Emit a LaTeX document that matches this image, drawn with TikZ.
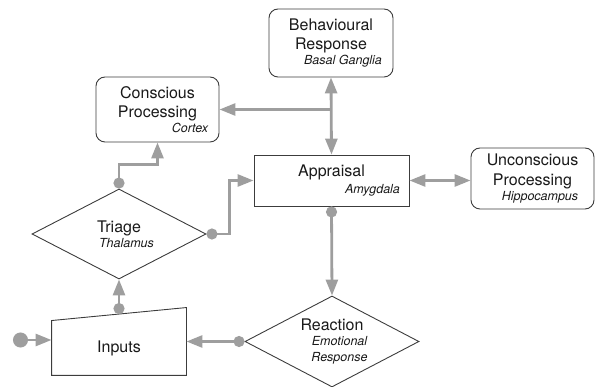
\documentclass[tikz,border=0pt]{standalone}
\usepackage{fontspec}
\setmainfont{TeX Gyre Heros}
\usetikzlibrary{arrows.meta,shapes.geometric,calc}
\definecolor{linkgray}{RGB}{158,158,158}
\definecolor{edgegray}{RGB}{60,60,60}
\newcommand{\regionname}[1]{{\fontsize{12.5}{14}\selectfont\itshape #1}}

\begin{document}
\begin{tikzpicture}[x=1pt,y=-1pt,
	outline/.style={draw=edgegray, line width=0.9pt},
	box/.style={outline, align=center, inner sep=0pt, text=black!90, font=\fontsize{16}{19.5}\selectfont},
	softbox/.style={box, rounded corners=9pt},
	choice/.style={box, diamond, aspect=2},
	flow/.style={draw=linkgray, line width=2.8pt, arrows={Circle[length=11pt]-Triangle[length=16pt,width=12pt]}},
	link/.style={draw=linkgray, line width=2.8pt, arrows={Triangle[length=16pt,width=12pt]-Triangle[length=16pt,width=12pt]}},
	feed/.style={draw=linkgray, line width=2.8pt, arrows={-Triangle[length=16pt,width=12pt]}}]
	\useasboundingbox (0,0) rectangle (595,387);
	% boxes and decisions
	\node[softbox, minimum width=124pt, minimum height=68pt] (behaviour) at (331,43) {Behavioural\\Response\\[-5pt]\hspace*{24pt}\regionname{Basal Ganglia}};
	\node[softbox, minimum width=123pt, minimum height=65pt] (conscious) at (157.5,109.5) {Conscious\\Processing\\[-4.5pt]\hspace*{65pt}\regionname{Cortex}};
	\node[box, minimum width=155pt, minimum height=51pt] (appraisal) at (331.5,180.5) {Appraisal\\[-3pt]\hspace*{82pt}\regionname{Amygdala}};
	\node[softbox, minimum width=123pt, minimum height=61pt] (unconscious) at (532.5,178.5) {Unconscious\\Processing\\[-4.5pt]\hspace*{15pt}\regionname{Hippocampus}};
	\node[choice, minimum width=174pt, minimum height=90pt] (triage) at (119,234) {Triage\\[-4.5pt]\hspace*{15pt}\regionname{Thalamus}};
	\node[choice, minimum width=174pt, minimum height=91pt] (reaction) at (332,341.5) {Reaction\\[-4.5pt]\hspace*{15pt}\regionname{Emotional}\\[-3.5pt]\hspace*{15pt}\regionname{Response}};
	\node[box, draw=none, minimum width=134pt, minimum height=54pt] (inputs) at (119,348) {Inputs};
	% slanted top of the inputs box
	\draw[outline] (inputs.south west) -- (inputs.south east) -- ($(inputs.north east)+(0,-13)$) -- (inputs.north west) -- cycle;
	\coordinate (source) at (13,340);
	\coordinate (inputs top) at ($(inputs.north)+(0,-6.5)$);
	\coordinate (split) at (behaviour.south |- conscious.east);
	% connectors
	\draw[flow, arrows={Circle[length=15pt]-Triangle[length=16pt,width=12pt]}] (source) -- (source -| inputs.west);
	\draw[flow] (inputs top) -- (triage.south);
	\draw[flow] (triage.north) -- ++(0,-24) -| (conscious.south);
	\draw[flow] (triage.east) -- ++(23,0) |- (appraisal.west);
	\draw[flow] (appraisal.south) -- (reaction.north);
	\draw[flow] (reaction.west) -- (reaction.west -| inputs.east);
	\draw[link] (appraisal.north) -- (behaviour.south);
	\draw[feed] (split) -- (conscious.east);
	\draw[link] (appraisal.east) -- (appraisal.east -| unconscious.west);
\end{tikzpicture}
\end{document}
